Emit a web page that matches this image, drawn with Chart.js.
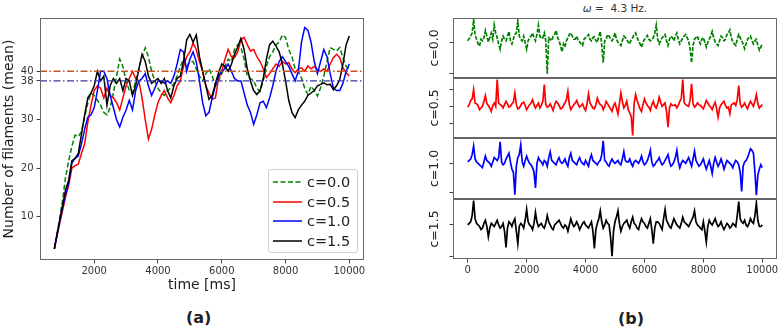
<!DOCTYPE html>
<html>
<head>
<meta charset="utf-8">
<script src="https://cdn.jsdelivr.net/npm/chart.js@4.4.1/dist/chart.umd.min.js"></script>
<style>
  body { margin: 0; width: 783px; height: 328px; overflow: hidden; position: relative; background: #fff; font-family: "DejaVu Sans", sans-serif; color: #222; }
  .box { position: absolute; }
  #legendA { position: absolute; left: 268px; top: 169px; width: 90px; height: 84px; border: 1px solid #cfcfcf; border-radius: 3px; background: rgba(255,255,255,0.85); box-sizing: border-box; }
  .lg { position: absolute; left: 0; height: 20px; width: 90px; }
  .lg svg { position: absolute; left: 4px; top: 6px; }
  .lg span { position: absolute; left: 38px; top: 1px; font-size: 14.5px; line-height: 18px; color: #222; }
  .cap { position: absolute; font-weight: bold; font-size: 16px; line-height: 18px; color: #222; }
  #omega { position: absolute; left: 415px; width: 400px; top: 2px; text-align: center; font-size: 10.5px; color: #333; }
</style>
</head>
<body>
<div class="box" style="left:0;top:0;width:380px;height:300px"><canvas id="chartA"></canvas></div>
<div id="legendA"></div>

<div id="omega"><i>ω</i> =&nbsp; 4.3 Hz.</div>
<div class="box" style="left:410px;top:18px;width:373px;height:60px"><canvas id="p0"></canvas></div>
<div class="box" style="left:410px;top:78px;width:373px;height:60px"><canvas id="p1"></canvas></div>
<div class="box" style="left:410px;top:138px;width:373px;height:61px"><canvas id="p2"></canvas></div>
<div class="box" style="left:410px;top:199px;width:373px;height:90px"><canvas id="p3"></canvas></div>

<div class="cap" style="left:186px;top:309px">(a)</div>
<div class="cap" style="left:618px;top:310px">(b)</div>

<script>
// ---------- panel (a): mean number of filaments ----------
const timesA = [750, 800, 900, 1000, 1100, 1200, 1300, 1400, 1500, 1600, 1700, 1800, 1900,
  2000, 2100, 2200, 2300, 2400, 2500, 2600, 2700, 2800, 2900,
  3000, 3100, 3200, 3300, 3400, 3500, 3600, 3700, 3800, 3900,
  4000, 4100, 4200, 4300, 4400, 4500, 4600, 4700, 4800, 4900,
  5000, 5100, 5200, 5300, 5400, 5500, 5600, 5700, 5800, 5900,
  6000, 6100, 6200, 6300, 6400, 6500, 6600, 6700, 6800, 6900,
  7000, 7100, 7200, 7300, 7400, 7500, 7600, 7700, 7800, 7900,
  8000, 8100, 8200, 8300, 8400, 8500, 8600, 8700, 8800, 8900,
  9000, 9100, 9200, 9300, 9400, 9500, 9600, 9700, 9800, 9900, 10000];

const meanC00 = [3.3, 5.0, 9.0, 13.0, 18.0, 21.5, 24.5, 26.8, 26.5, 27.5, 30.5, 33.5, 35.5,
  35.0, 34.0, 33.0, 31.5, 31.0, 32.5, 35.5, 39.0, 42.5, 41.0,
  38.0, 36.0, 35.5, 38.0, 40.5, 43.0, 44.8, 43.0, 40.0, 38.0,
  36.5, 35.5, 35.0, 36.0, 36.5, 37.5, 39.0, 41.0, 42.5, 41.0,
  42.0, 42.0, 40.5, 39.0, 38.0, 39.5, 40.5, 39.0, 37.0, 38.0,
  39.5, 41.0, 42.5, 42.0, 44.5, 45.5, 45.0, 42.5, 39.0, 38.5,
  38.0, 36.5, 35.8, 38.0, 41.0, 43.0, 44.0, 45.5, 46.0, 47.5,
  47.0, 44.5, 43.0, 40.5, 40.0, 38.6, 36.5, 35.2, 36.9, 36.0,
  34.9, 36.6, 39.0, 42.0, 44.9, 44.5, 44.2, 44.9, 42.8, 41.0, 40.5];

const meanC05 = [3.3, 4.8, 8.0, 11.0, 14.0, 16.5, 20.0, 20.5, 20.8, 23.0, 25.0, 29.5, 33.0,
  36.0, 37.0, 36.5, 34.5, 36.5, 35.0, 34.5, 33.5, 32.0, 34.5,
  37.0, 38.5, 40.0, 38.5, 38.0, 34.5, 30.0, 26.0, 28.0, 31.0,
  33.5, 35.0, 36.0, 34.5, 33.5, 35.0, 37.0, 38.0, 41.0, 43.0,
  44.0, 45.8, 44.5, 42.0, 40.0, 37.0, 35.5, 34.2, 34.5, 38.5,
  40.0, 42.5, 44.5, 43.0, 42.8, 44.0, 46.5, 47.0, 45.5, 44.2,
  44.5, 43.0, 42.0, 40.5, 38.7, 39.5, 40.5, 41.5, 41.0, 42.0,
  41.5, 41.8, 40.5, 39.7, 40.5, 40.7, 40.0, 41.1, 40.5, 41.0,
  40.4, 40.0, 40.5, 40.0, 41.5, 42.8, 43.5, 42.8, 40.7, 39.7, 39.0];

const meanC10 = [3.3, 5.0, 8.5, 11.5, 14.5, 17.0, 21.0, 22.0, 22.5, 25.0, 28.0, 30.5, 31.0,
  32.5, 36.0, 40.0, 40.0, 38.5, 35.0, 32.5, 30.0, 28.5, 30.5,
  32.0, 34.0, 32.0, 36.0, 38.0, 38.5, 39.5, 37.0, 35.0, 36.5,
  38.0, 38.0, 37.5, 38.0, 37.5, 39.0, 41.5, 44.5, 44.0, 40.0,
  42.5, 44.0, 42.0, 38.0, 33.5, 30.8, 31.5, 34.5, 37.0, 39.0,
  40.0, 40.5, 41.5, 40.0, 38.5, 38.0, 38.0, 35.5, 33.0, 31.5,
  29.0, 31.0, 33.5, 33.8, 32.5, 34.5, 37.0, 40.0, 42.0, 43.0,
  42.0, 41.0, 39.5, 38.0, 40.0, 46.0, 49.0, 48.5, 46.0, 42.0,
  39.5, 42.0, 44.5, 43.0, 39.5, 36.5, 36.0, 36.0, 37.5, 40.0, 41.5];

const meanC15 = [3.3, 5.2, 8.5, 12.0, 15.5, 17.5, 21.5, 22.0, 23.0, 27.0, 31.0, 34.5, 35.5,
  37.0, 40.0, 38.0, 39.0, 33.0, 37.0, 38.5, 37.5, 38.5, 36.0,
  38.5, 38.0, 35.0, 37.0, 40.5, 43.5, 42.0, 39.0, 37.5, 38.0,
  38.5, 37.5, 38.5, 36.0, 34.5, 37.0, 38.5, 39.0, 42.0, 46.5,
  47.6, 46.0, 47.5, 43.0, 40.0, 37.0, 34.2, 35.0, 37.5, 39.7,
  41.5, 41.0, 40.0, 41.4, 43.5, 45.0, 46.8, 44.5, 40.5, 38.0,
  36.0, 35.2, 36.0, 38.5, 42.5, 45.5, 46.2, 45.2, 44.0, 41.5,
  38.0, 34.0, 31.5, 30.4, 32.0, 33.0, 33.8, 35.0, 35.5, 36.0,
  37.0, 37.3, 37.6, 37.2, 37.3, 36.2, 37.0, 38.3, 41.5, 45.5, 47.3];

const seriesLabels = ['c=0.0', 'c=0.5', 'c=1.0', 'c=1.5'];
const seriesColors = ['#008000', '#ff0000', '#0000ff', '#000000'];
const refLevels = [40, 38];
const refColors = ['#c4561e', '#3a3aa8'];
const yTicksA = [10, 20, 30, 38, 40];
const xTicksA = [2000, 4000, 6000, 8000, 10000];

// ---------- panel (b): signals at omega = 4.3 Hz ----------
const timesB = [0, 50, 100, 150, 200, 250, 300, 350, 400, 450, 500, 550, 600, 650, 700, 750, 800, 850, 900, 950,
  1000, 1050, 1100, 1150, 1200, 1250, 1300, 1350, 1400, 1450, 1500, 1550, 1600, 1650, 1700, 1750, 1800, 1850, 1900, 1950,
  2000, 2050, 2100, 2150, 2200, 2250, 2300, 2350, 2400, 2450, 2500, 2550, 2600, 2650, 2700, 2750, 2800, 2850, 2900, 2950,
  3000, 3050, 3100, 3150, 3200, 3250, 3300, 3350, 3400, 3450, 3500, 3550, 3600, 3650, 3700, 3750, 3800, 3850, 3900, 3950,
  4000, 4050, 4100, 4150, 4200, 4250, 4300, 4350, 4400, 4450, 4500, 4550, 4600, 4650, 4700, 4750, 4800, 4850, 4900, 4950,
  5000, 5050, 5100, 5150, 5200, 5250, 5300, 5350, 5400, 5450, 5500, 5550, 5600, 5650, 5700, 5750, 5800, 5850, 5900, 5950,
  6000, 6050, 6100, 6150, 6200, 6250, 6300, 6350, 6400, 6450, 6500, 6550, 6600, 6650, 6700, 6750, 6800, 6850, 6900, 6950,
  7000, 7050, 7100, 7150, 7200, 7250, 7300, 7350, 7400, 7450, 7500, 7550, 7600, 7650, 7700, 7750, 7800, 7850, 7900, 7950,
  8000, 8050, 8100, 8150, 8200, 8250, 8300, 8350, 8400, 8450, 8500, 8550, 8600, 8650, 8700, 8750, 8800, 8850, 8900, 8950,
  9000, 9050, 9100, 9150, 9200, 9250, 9300, 9350, 9400, 9450, 9500, 9550, 9600, 9650, 9700, 9750, 9800, 9850, 9900, 9950,
  10000];

const sigC00 = [0.05, 0.12, 0.20, 0.30, 0.72, 0.25, 0.10, -0.05, -0.12, 0.10, 0.05, 0.15, 0.38, 0.20, 0.02, 0.15, 0.30, 0.10, 0.55, 0.30,
  0.15, -0.05, -0.22, 0.05, 0.20, 0.10, 0.05, 0.20, 0.35, 0.05, -0.05, 0.10, 0.25, 0.30, 0.68, 0.20, 0.10, 0.05, 0.20, 0.00,
  -0.22, 0.05, 0.15, 0.20, 0.30, 0.15, 0.05, 0.25, 0.55, 0.20, 0.12, 0.15, 0.30, 0.05, -1.00, 0.15, 0.10, 0.05, 0.20, 0.25,
  0.38, 0.15, 0.05, -0.10, -0.30, -0.05, -0.15, 0.05, 0.15, 0.25, 0.30, 0.20, 0.10, 0.10, 0.20, 0.05, 0.02, -0.05, -0.10, 0.10,
  0.15, 0.20, 0.25, 0.10, 0.05, 0.15, 0.18, 0.05, 0.00, 0.20, 0.35, -0.10, -0.65, 0.05, 0.10, 0.25, 0.20, 0.10, 0.05, 0.15,
  0.30, 0.10, 0.00, -0.05, -0.10, 0.05, 0.20, 0.15, 0.10, 0.00, -0.05, 0.10, 0.15, 0.25, 0.30, 0.15, 0.05, -0.05, -0.15, 0.00,
  0.10, 0.15, 0.22, 0.10, 0.05, 0.10, 0.15, 0.30, 0.55, 0.10, -0.05, 0.05, 0.15, 0.20, 0.25, 0.05, -0.10, 0.10, 0.20, 0.15,
  0.05, 0.20, 0.30, 0.10, -0.05, 0.05, 0.15, 0.20, 0.25, 0.15, 0.05, -0.20, -0.65, -0.10, 0.10, 0.15, 0.20, 0.05, -0.05, 0.10,
  0.15, 0.00, -0.15, 0.00, 0.10, 0.20, 0.35, 0.15, 0.02, -0.05, -0.10, 0.05, 0.20, 0.15, 0.05, 0.10, 0.25, 0.30, 0.40, 0.15,
  0.00, -0.05, -0.10, 0.10, 0.25, 0.15, 0.05, -0.05, -0.20, -0.05, 0.10, 0.15, 0.20, 0.05, -0.05, 0.05, 0.10, -0.10, -0.25, -0.15,
  -0.05];

const sigC05 = [-0.05, 0.10, 0.35, 0.45, 1.00, 0.20, 0.15, 0.05, -0.20, -0.10, 0.00, 0.30, 0.65, 0.15, 0.05, -0.10, -0.30, 0.05, 0.20, 0.00,
  1.60, 0.20, 0.10, 0.05, -0.10, 0.10, 0.30, 0.15, -0.05, 0.00, 0.15, 0.25, 0.80, 0.10, -0.15, -0.10, 0.05, 0.20, 0.25, 0.05,
  -0.20, -0.05, 0.10, 0.20, 0.40, 0.10, -0.10, 0.05, 0.20, -0.10, 0.05, 0.30, 1.30, 0.10, -0.05, 0.00, 0.15, -0.05, -0.25, 0.10,
  0.30, 0.20, 0.05, -0.15, -0.10, 0.05, 0.20, 0.40, 0.90, 0.10, -0.20, -0.05, 0.10, 0.20, 0.35, 0.10, -0.05, 0.05, 0.15, -0.10,
  -0.25, 0.15, 0.75, 0.20, 0.05, -0.10, -0.15, 0.10, 0.50, 0.25, 0.10, 0.05, -0.20, 0.00, 0.30, 0.15, 0.00, -0.15, -0.30, 0.05,
  0.20, -0.10, -0.45, 0.15, 0.80, 0.30, -0.10, 0.05, 0.30, -0.20, -0.40, -0.60, -1.75, 0.20, 0.70, 0.35, 0.10, -0.15, -0.30, 0.10,
  0.45, 0.20, 0.05, -0.05, -0.25, 0.10, 0.30, 0.00, -0.10, 0.15, 0.55, 0.25, 0.00, 0.10, 0.20, -0.30, -1.25, -0.10, 0.15, 0.05,
  0.05, 0.10, -0.10, 0.05, 0.30, 0.45, 1.60, 0.20, 0.10, 0.05, 0.00, 0.40, 1.35, 0.15, -0.05, 0.05, 0.20, 0.10, 0.05, -0.05,
  -0.15, 0.10, 0.35, 0.20, 0.05, -0.05, -0.20, 0.05, 0.25, -0.15, -0.65, -0.10, 0.10, 0.20, 0.30, 0.05, -0.10, -0.05, -0.45, 0.10,
  0.15, 0.20, 0.05, 0.40, 1.25, 0.15, -0.05, 0.05, 0.20, 0.00, -0.15, 0.10, 0.30, 0.15, 0.00, 0.30, 0.70, 0.15, -0.10, 0.00,
  0.10];

const sigC10 = [0.05, 0.10, 0.15, 0.30, 0.60, 0.15, 0.05, 0.00, -0.05, -0.10, -0.15, 0.05, 0.25, 0.10, 0.05, 0.00, -0.10, 0.05, 0.20, 0.15,
  0.10, 0.20, 0.74, 0.05, -0.05, 0.00, 0.15, 0.25, 0.35, 0.05, -0.20, -0.30, -1.08, -0.10, 0.20, 0.30, 0.64, 0.05, -0.10, 0.10,
  0.25, 0.10, 0.00, -0.05, -0.15, -0.30, -0.85, 0.00, 0.20, 0.10, 0.05, -0.05, 0.10, 0.05, -0.10, 0.20, 0.40, 0.10, 0.05, 0.00,
  -0.05, 0.10, 0.20, 0.05, 0.00, 0.05, 0.15, 0.00, -0.10, 0.20, 0.35, 0.10, 0.05, 0.00, -0.05, 0.10, 0.20, 0.05, 0.00, -0.05,
  0.10, 0.00, -0.10, 0.15, 0.30, 0.10, 0.05, 0.00, -0.05, 0.05, 0.10, 0.30, 0.78, 0.10, 0.05, -0.05, -0.10, 0.05, 0.15, 0.05,
  0.00, 0.05, 0.10, 0.00, -0.05, 0.15, 0.40, 0.10, 0.05, 0.05, 0.15, 0.00, -0.10, 0.05, 0.10, 0.05, 0.00, 0.10, 0.25, 0.05,
  -0.05, 0.00, 0.10, 0.25, 0.45, 0.05, -0.10, -0.05, 0.05, 0.10, 0.20, 0.05, -0.05, 0.00, 0.10, 0.20, 0.30, 0.05, -0.10, -0.05,
  0.05, 0.20, 0.45, 0.05, -0.15, 0.00, 0.10, 0.05, 0.00, 0.10, 0.20, 0.05, -0.10, 0.15, 0.42, 0.10, 0.00, -0.10, -0.05, 0.05,
  0.15, -0.05, -0.20, -0.05, 0.10, -0.10, -0.35, 0.00, 0.20, 0.05, -0.10, 0.00, 0.15, 0.00, -0.20, -0.05, 0.10, 0.05, 0.00, -0.05,
  -0.15, 0.00, 0.10, 0.05, -0.05, -0.30, -0.97, -0.10, 0.05, 0.10, 0.20, 0.35, 0.50, 0.45, 0.35, -0.30, -1.10, -0.40, -0.20, -0.05,
  -0.15];

const sigC15 = [0.00, 0.05, 0.10, 0.30, 0.78, 0.20, 0.05, 0.00, -0.05, -0.15, -0.10, 0.05, 0.15, -0.05, -0.38, -0.10, 0.05, 0.00, -0.05, 0.05,
  0.15, 0.00, -0.10, -0.05, 0.05, -0.20, -0.72, -0.10, 0.10, 0.05, -0.05, 0.10, 0.20, -0.20, -0.60, -0.05, 0.05, 0.00, -0.10, 0.15,
  0.50, 0.10, 0.00, -0.05, -0.15, 0.05, 0.40, 0.10, -0.05, 0.00, 0.05, -0.05, -0.10, 0.05, 0.30, 0.10, 0.00, -0.10, -0.15, 0.00,
  0.05, 0.10, 0.15, 0.05, -0.05, -0.10, 0.00, -0.05, -0.20, 0.00, 0.20, 0.05, -0.05, 0.00, 0.10, 0.00, -0.15, -0.05, 0.05, 0.10,
  0.00, -0.05, -0.10, 0.00, 0.10, -0.20, -0.75, -0.15, 0.05, 0.20, 0.45, 0.10, -0.10, 0.00, 0.15, 0.05, 0.00, -0.40, -1.00, -0.20,
  0.10, 0.25, 0.45, 0.05, -0.20, -0.05, 0.05, 0.10, 0.15, 0.00, -0.10, 0.10, 0.25, 0.05, 0.00, -0.10, -0.15, 0.05, 0.20, 0.10,
  0.05, -0.05, -0.10, 0.05, 0.20, -0.15, -0.60, -0.10, 0.10, 0.10, 0.05, -0.05, -0.15, 0.20, 0.50, 0.15, 0.05, -0.05, -0.10, 0.05,
  0.20, 0.10, 0.00, -0.05, -0.10, 0.05, 0.25, 0.10, 0.05, 0.00, -0.05, 0.05, 0.15, 0.25, 0.45, 0.10, 0.00, -0.05, -0.10, -0.15,
  0.10, -0.20, -0.55, -0.05, 0.15, 0.05, 0.00, 0.10, 0.20, 0.05, -0.05, 0.00, 0.10, -0.05, -0.15, -0.05, 0.05, 0.00, -0.10, -0.05,
  0.05, 0.00, -0.05, 0.30, 0.75, 0.20, 0.10, 0.05, 0.15, 0.00, -0.05, 0.05, 0.20, 0.10, 0.05, 0.30, 0.70, 0.15, -0.05, -0.05,
  0.00];

// y ranges and tick positions of the four small panels (ticks carry no labels)
const panelRanges = [[-1.14, 0.78], [-1.9, 1.7], [-1.23, 0.875], [-1.09, 0.83]];
const panelTicks = [[-1, 0], [-1, 0, 1], [-1, 0], [-1, 0]];
const xTicksB = [0, 2000, 4000, 6000, 8000, 10000];

Chart.defaults.font.family = '"DejaVu Sans", sans-serif';
Chart.defaults.color = '#333';

const framePlugin = {
  id: 'frame',
  afterDraw(chart) {
    const { ctx, chartArea: a } = chart;
    ctx.save();
    ctx.strokeStyle = '#666';
    ctx.lineWidth = 1;
    ctx.strokeRect(a.left + 0.5, a.top + 0.5, a.width - 1, a.height - 1);
    ctx.restore();
  }
};

function toPoints(xs, ys) {
  return xs.map((x, i) => ({ x: x, y: ys[i] }));
}
const plainNum = v => String(v);

// ---- chart (a)
const X_MIN_A = 300, X_MAX_A = 10460;
const meansA = [meanC00, meanC05, meanC10, meanC15];
const datasetsA = [];
refLevels.forEach((lv, i) => {
  datasetsA.push({
    label: 'ref ' + lv,
    data: [{ x: X_MIN_A, y: lv }, { x: X_MAX_A, y: lv }],
    borderColor: refColors[i],
    borderWidth: 1.3,
    borderDash: [7, 2.5, 1.5, 2.5],
    pointRadius: 0,
    order: 0
  });
});
meansA.forEach((vals, i) => {
  datasetsA.push({
    label: seriesLabels[i],
    data: toPoints(timesA, vals),
    borderColor: seriesColors[i],
    borderWidth: 1.5,
    borderDash: i === 0 ? [5, 2.5] : [],
    pointRadius: 0,
    tension: 0,
    order: 4 - i
  });
});

new Chart(document.getElementById('chartA'), {
  type: 'line',
  data: { datasets: datasetsA },
  options: {
    responsive: true,
    maintainAspectRatio: false,
    animation: false,
    layout: { padding: { top: 18, right: 16, left: 0, bottom: 0 } },
    plugins: { legend: { display: false }, tooltip: { enabled: false } },
    scales: {
      x: {
        type: 'linear',
        min: X_MIN_A,
        max: X_MAX_A,
        afterBuildTicks: s => { s.ticks = xTicksA.map(v => ({ value: v })); },
        afterFit: s => { s.height = 40; },
        grid: { drawOnChartArea: false, drawTicks: true, tickLength: 3.5, color: '#444' },
        border: { display: false },
        ticks: { font: { size: 10 }, padding: 1.5, maxRotation: 0, autoSkip: false, color: '#333', callback: plainNum },
        title: { display: true, text: 'time [ms]', font: { size: 14 }, color: '#222', padding: { top: 0, bottom: 6 } }
      },
      y: {
        type: 'linear',
        min: 1,
        max: 51,
        afterBuildTicks: s => { s.ticks = yTicksA.map(v => ({ value: v })); },
        afterFit: s => { s.width = 40; },
        grid: { drawOnChartArea: false, drawTicks: true, tickLength: 3.5, color: '#444' },
        border: { display: false },
        ticks: { font: { size: 10 }, padding: 3, autoSkip: false, color: '#333', callback: plainNum },
        title: { display: true, text: 'Number of filaments (mean)', font: { size: 14 }, color: '#222', padding: { top: 1, bottom: 0 } }
      }
    }
  },
  plugins: [framePlugin]
});

// legend for (a), built from the series
const lg = document.getElementById('legendA');
seriesLabels.forEach((lab, i) => {
  const row = document.createElement('div');
  row.className = 'lg';
  row.style.top = (2 + i * 19.7) + 'px';
  const dash = i === 0 ? 'stroke-dasharray="5 2.5"' : '';
  row.innerHTML = '<svg width="30" height="8"><line x1="0" y1="4" x2="29" y2="4" stroke="' +
    seriesColors[i] + '" stroke-width="1.5" ' + dash + '/></svg><span>' + lab + '</span>';
  lg.appendChild(row);
});

// ---- chart (b): four stacked panels
const sigsB = [sigC00, sigC05, sigC10, sigC15];
sigsB.forEach((vals, i) => {
  const last = i === 3;
  new Chart(document.getElementById('p' + i), {
    type: 'line',
    data: {
      datasets: [{
        label: seriesLabels[i],
        data: toPoints(timesB, vals),
        borderColor: seriesColors[i],
        borderWidth: 1.7,
        borderDash: i === 0 ? [4, 1.5] : [],
        pointRadius: 0,
        tension: 0
      }]
    },
    options: {
      responsive: true,
      maintainAspectRatio: false,
      animation: false,
      layout: { padding: { top: 0, right: 6, left: 0, bottom: 0 } },
      plugins: { legend: { display: false }, tooltip: { enabled: false } },
      scales: {
        x: {
          type: 'linear',
          display: last,
          min: -500,
          max: 10500,
          afterBuildTicks: s => { s.ticks = xTicksB.map(v => ({ value: v })); },
          afterFit: s => { s.height = last ? 30 : 0; },
          grid: { drawOnChartArea: false, drawTicks: true, tickLength: 3.5, color: '#444' },
          border: { display: false },
          ticks: { font: { size: 10 }, padding: 1.5, maxRotation: 0, autoSkip: false, color: '#333', callback: plainNum }
        },
        y: {
          type: 'linear',
          min: panelRanges[i][0],
          max: panelRanges[i][1],
          afterBuildTicks: s => { s.ticks = panelTicks[i].map(v => ({ value: v })); },
          afterFit: s => { s.width = 43; },
          grid: { drawOnChartArea: false, drawTicks: true, tickLength: 3.5, color: '#444' },
          border: { display: false },
          ticks: { display: false, autoSkip: false },
          title: { display: true, text: seriesLabels[i], font: { size: 12.5 }, color: '#222', padding: { top: 17, bottom: 0 } }
        }
      }
    },
    plugins: [framePlugin]
  });
});
</script>
</body>
</html>
